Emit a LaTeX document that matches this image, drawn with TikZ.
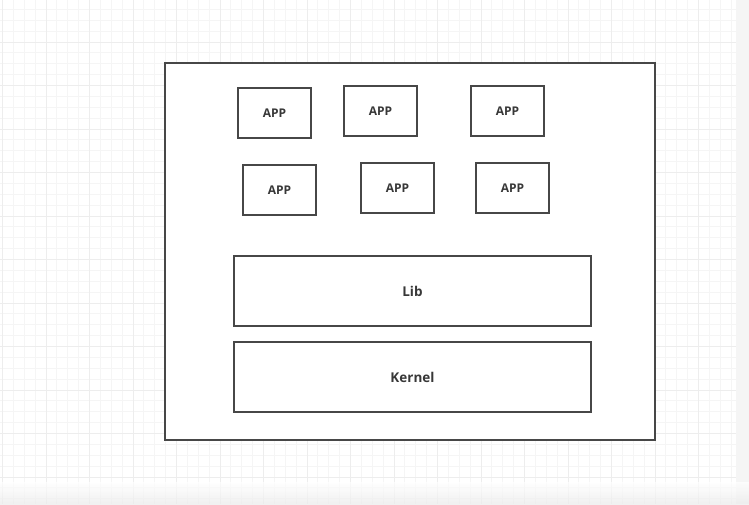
\documentclass[tikz,border=0pt]{standalone}
\usepackage{fontspec}
\setmainfont{Open Sans}
\begin{document}
\begin{tikzpicture}[x=1pt,y=-1pt,
  box/.style={draw=black!72,line width=1.3pt,fill=white,inner sep=0pt,font=\fontsize{12}{14}\selectfont\bfseries,text=black!78},
  wide/.style={box,font=\fontsize{13.5}{15}\selectfont\bfseries},
  minorgrid/.style={draw=black!4,line width=0.8pt},
  majorgrid/.style={draw=black!7,line width=0.9pt}]
\useasboundingbox (0,0) rectangle (749,504);
\fill[white] (0,0) rectangle (749,504);
% grid
\foreach \i in {0,...,69}{
  \draw[minorgrid] ({2.5+10.875*\i},0) -- ({2.5+10.875*\i},504);
}
\foreach \i in {0,...,47}{
  \draw[minorgrid] (0,{-1.5+10.875*\i}) -- (749,{-1.5+10.875*\i});
}
\foreach \i in {0,...,17}{
  \draw[majorgrid] ({2.5+43.5*\i},0) -- ({2.5+43.5*\i},504);
}
\foreach \i in {0,...,11}{
  \draw[majorgrid] (0,{-1.5+43.5*\i}) -- (749,{-1.5+43.5*\i});
}
% edge strips
\fill[black!4] (736,0) rectangle (749,504);
\shade[top color=white,bottom color=black!8,opacity=0.7] (0,482) rectangle (749,504);
% outer box
\node[box,minimum width=490pt,minimum height=377pt] (os) at (410,251.5) {};
% apps
\node[box,minimum width=73pt,minimum height=50pt] (a1) at (274.5,113) {APP};
\node[box,minimum width=73pt,minimum height=50pt] (a2) at (380.5,111) {APP};
\node[box,minimum width=73pt,minimum height=50pt] (a3) at (507.5,111) {APP};
\node[box,minimum width=73pt,minimum height=50pt] (a4) at (279.5,190) {APP};
\node[box,minimum width=73pt,minimum height=50pt] (a5) at (397.5,188) {APP};
\node[box,minimum width=73pt,minimum height=50pt] (a6) at (512.5,188) {APP};
% lib and kernel
\node[wide,minimum width=357pt,minimum height=70pt] (lib) at (412.5,291) {Lib};
\node[wide,minimum width=357pt,minimum height=70pt] (kernel) at (412.5,377) {Kernel};
\end{tikzpicture}
\end{document}
